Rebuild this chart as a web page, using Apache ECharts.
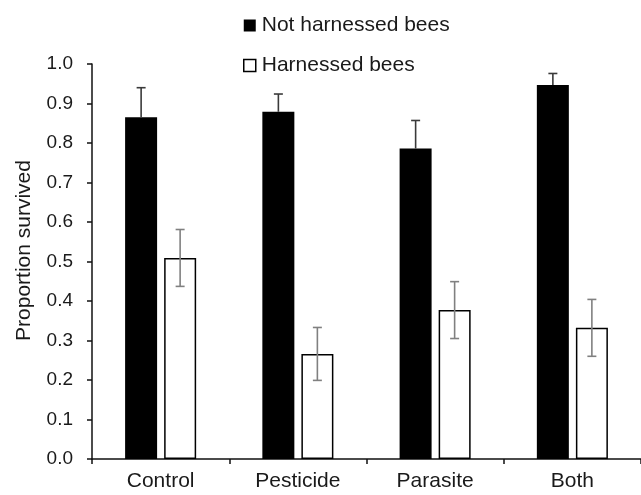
<!DOCTYPE html>
<html>
<head>
<meta charset="utf-8">
<script src="https://cdn.jsdelivr.net/npm/echarts@6/dist/echarts.min.js"></script>
<style>
  html, body { margin: 0; padding: 0; background: #fff; }
  #chart { width: 641px; height: 495px; }
</style>
</head>
<body>
<div id="chart"></div>
<script>
const categories = ['Control', 'Pesticide', 'Parasite', 'Both'];
const notHarnessed = [0.865, 0.879, 0.786, 0.947];
const notHarnessedErr = [0.075, 0.045, 0.071, 0.029];
const harnessed = [0.509, 0.266, 0.377, 0.332];
const harnessedErr = [0.072, 0.067, 0.072, 0.072];
const yTicks = [0, 0.1, 0.2, 0.3, 0.4, 0.5, 0.6, 0.7, 0.8, 0.9, 1.0];

const font = 'Arial, "Liberation Sans", sans-serif';

// error bar drawn around one bar of the group, shifted from the category centre
function errorBars(values, errs, offset, color, upOnly) {
  return {
    type: 'custom',
    silent: true,
    z: 5,
    data: values.map((v, i) => [i, upOnly ? v : v - errs[i], v + errs[i]]),
    renderItem: function (params, api) {
      const lo = api.coord([api.value(0), api.value(1)]);
      const hi = api.coord([api.value(0), api.value(2)]);
      const x = lo[0] + offset;
      const cap = 4.5;
      const style = { stroke: color, lineWidth: 1.6 };
      return {
        type: 'group',
        children: [
          { type: 'line', shape: { x1: x, y1: lo[1], x2: x, y2: hi[1] }, style: style },
          { type: 'line', shape: { x1: x - cap, y1: hi[1], x2: x + cap, y2: hi[1] }, style: style },
          upOnly ? null : { type: 'line', shape: { x1: x - cap, y1: lo[1], x2: x + cap, y2: lo[1] }, style: style }
        ].filter(Boolean)
      };
    }
  };
}

const chart = echarts.init(document.getElementById('chart'));
chart.setOption({
  animation: false,
  textStyle: { fontFamily: font },
  grid: { left: 92, right: -11, top: 64, bottom: 36 },
  legend: {
    orient: 'vertical',
    left: 243,
    top: 15,
    padding: 0,
    itemWidth: 12,
    itemHeight: 12,
    itemGap: 19,
    textStyle: { fontSize: 21, color: '#1a1a1a', fontFamily: font, padding: [0, 0, 0, 1] },
    data: [
      { name: 'Not harnessed bees', icon: 'rect', itemStyle: { color: '#000', borderWidth: 0 } },
      { name: 'Harnessed bees', icon: 'rect', itemStyle: { color: '#fff', borderColor: '#000', borderWidth: 1.5 } }
    ]
  },
  xAxis: {
    type: 'category',
    data: categories,
    axisLine: { lineStyle: { color: '#111', width: 1.5 } },
    axisTick: { show: true, length: 5, lineStyle: { color: '#111', width: 1.5 } },
    axisLabel: { fontSize: 21, color: '#1a1a1a', margin: 12, fontFamily: font },
    splitLine: { show: false }
  },
  yAxis: {
    type: 'value',
    min: 0,
    max: 1,
    interval: 0.1,
    name: 'Proportion survived',
    nameLocation: 'middle',
    nameGap: 57,
    nameRotate: 90,
    nameTextStyle: { fontSize: 21, color: '#1a1a1a', fontFamily: font, padding: [0, 0, 0, 22] },
    axisLine: { show: true, lineStyle: { color: '#111', width: 1.5 } },
    axisTick: { show: true, length: 5, lineStyle: { color: '#111', width: 1.5 } },
    axisLabel: {
      fontSize: 19, color: '#1a1a1a', margin: 19, fontFamily: font,
      customValues: yTicks,
      formatter: v => v.toFixed(1)
    },
    splitLine: { show: false }
  },
  series: [
    {
      name: 'Not harnessed bees',
      type: 'bar',
      data: notHarnessed,
      barWidth: 32,
      barGap: '22%',
      itemStyle: { color: '#000' }
    },
    {
      name: 'Harnessed bees',
      type: 'bar',
      data: harnessed,
      barWidth: 32,
      itemStyle: { color: '#fff', borderColor: '#000', borderWidth: 1.5 }
    },
    errorBars(notHarnessed, notHarnessedErr, -19.5, '#3a3a3a', true),
    errorBars(harnessed, harnessedErr, 19.5, '#808080', false)
  ]
});
</script>
</body>
</html>
